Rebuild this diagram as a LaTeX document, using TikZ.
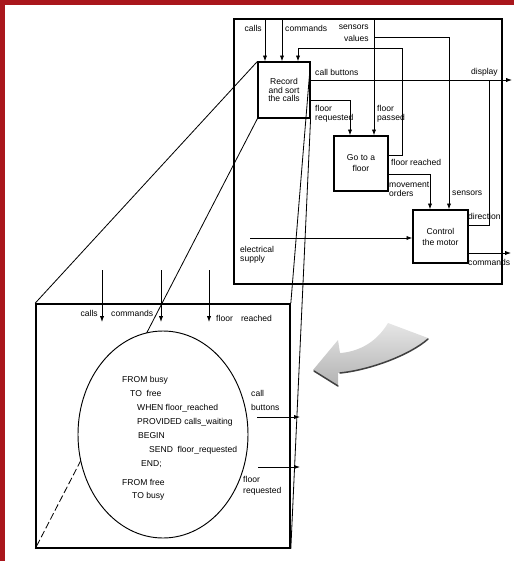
\documentclass[tikz,border=0pt]{standalone}
\usepackage{fontspec}
\setmainfont{Liberation Sans}
\usetikzlibrary{arrows.meta,calc,shapes.geometric}
\definecolor{slideRed}{HTML}{A9161C}

\begin{document}
\begin{tikzpicture}[x=0.3mm,y=-0.3mm, >={Latex[length=5pt,width=3.6pt]},
  lbl/.style={inner sep=0pt,align=left,font=\fontsize{7.3}{8}\selectfont},
  proc/.style={draw,line width=1pt,inner sep=0pt,align=center,font=\fontsize{7.3}{9.4}\selectfont},
  frame/.style={draw,line width=1.4pt,inner sep=0pt},
  flow/.style={->,line width=0.7pt},
  wire/.style={line width=0.7pt},
  zoomline/.style={line width=0.7pt}]
\useasboundingbox (0,0) rectangle (514,561);
\fill[slideRed] (0,0) rectangle (5,561);
\fill[slideRed] (0,0) rectangle (514,5);

% the system and its three activities
\node[frame,minimum width=80.4mm,minimum height=79.5mm] (sys) at (368,151.5) {};
\node[proc,minimum width=15.6mm,minimum height=16.8mm] (rec) at (284,90) {Record\\[-2.2pt]and sort\\[-2.2pt]the calls};
\node[proc,minimum width=16.2mm,minimum height=16.5mm] (goto) at (361,163.5) {Go to a\\floor};
\node[proc,minimum width=16.5mm,minimum height=15.9mm] (motor) at (440.5,236.5) {Control\\the motor};

\coordinate (callsin) at (265,19);
\coordinate (cmdin) at (282,19);
\coordinate (sensin) at (374,19);
\coordinate (sensbr) at (374,37);
\coordinate (senscol) at (449,37);
\coordinate (fbrise) at (402,155);
\coordinate (fbright) at (402,48);
\coordinate (fbleft) at (298,48);
\coordinate (dispout) at (512,80);
\coordinate (frbend) at (350,100);
\coordinate (mvbend) at (430,174);
\coordinate (dirbend) at (489,225);
\coordinate (elin) at (250,238);
\coordinate (cmdout) at (511,253);

\draw[flow] (callsin) -- (callsin |- rec.north);
\draw[flow] (cmdin) -- (cmdin |- rec.north);
\draw[flow] (sensin) -- (sensin |- goto.north);
\draw[flow] (sensbr) -- (senscol) -- (senscol |- motor.north);
\draw[flow] (goto.east |- fbrise) -- (fbrise) -- (fbright) -- (fbleft) -- (fbleft |- rec.north);
\draw[flow] (rec.east |- dispout) -- (dispout);
\draw[flow] (rec.east |- frbend) -- (frbend) -- (frbend |- goto.north);
\draw[flow] (goto.east |- mvbend) -- (mvbend) -- (mvbend |- motor.north);
\draw[wire] (motor.east |- dirbend) -- (dirbend) -- (dirbend |- dispout);
\draw[flow] (elin) -- (elin -| motor.west);
\draw[flow] (motor.east |- cmdout) -- (cmdout);

\node[lbl,anchor=east] (lcalls) at (262,28) {calls};
\node[lbl,anchor=west] (lcmd) at (285,28) {commands};
\node[lbl,anchor=east,align=right,font=\fontsize{7.3}{10}\selectfont] (lsens) at (369,33) {sensors\\values};
\node[lbl,anchor=west] (lcb) at (315,72) {call buttons};
\node[lbl,anchor=east] (ldisp) at (498,72) {display};
\node[lbl,anchor=west] (lfreq) at (315,114) {floor\\requested};
\node[lbl,anchor=west] (lfpass) at (377,114) {floor\\passed};
\node[lbl,anchor=west] (lfreach) at (391,162) {floor reached};
\node[lbl,anchor=west] (lmove) at (389,189) {movement\\orders};
\node[lbl,anchor=west] (lsensors) at (452,193) {sensors};
\node[lbl,anchor=west] (ldir) at (468,216) {direction};
\node[lbl,anchor=west] (lelec) at (240,255) {electrical\\supply};
\node[lbl,anchor=west] (lcmdout) at (468,262) {commands};

% the magnified activity
\node[frame,minimum width=76.2mm,minimum height=73.2mm] (low) at (163,426) {};
\coordinate (hidden) at ($(rec.south west)!0.65!(low.south west)$);
\draw[zoomline] (rec.north west) -- (low.north west);
\draw[zoomline] (rec.north east) -- (low.north east);
\draw[zoomline] (rec.south east) -- (low.south east);
\draw[zoomline] (rec.south west) -- (hidden);
\draw[zoomline,dash pattern=on 6pt off 2.5pt] (hidden) -- (low.south west);
\node[draw,ellipse,line width=0.8pt,fill=white,inner sep=0pt,minimum width=51mm,minimum height=62.1mm] (zoomview) at (163,434.5) {};
\node[lbl,anchor=north west,font=\fontsize{7.3}{11.9}\selectfont] (code) at (122,376) {FROM busy\\
\hspace*{6.8pt}TO\ \ free\\
\hspace*{12.8pt}WHEN floor\_reached\\
\hspace*{12.8pt}PROVIDED calls\_waiting\\
\hspace*{13.6pt}BEGIN\\
\hspace*{23pt}SEND\ \ floor\_requested\\
\hspace*{16.2pt}END;\\[5pt]
FROM free\\[-1.5pt]
\hspace*{8.5pt}TO busy};

\coordinate (zcallsin) at (102,270);
\coordinate (zcmdin) at (161,270);
\coordinate (zreachin) at (209,270);
\coordinate (zinend) at (0,322);
\coordinate (zcbfrom) at (257,417);
\coordinate (zcbout) at (300,417);
\coordinate (zfrfrom) at (258,467);
\coordinate (zfrout) at (300,467);
\draw[flow] (zcallsin) -- (zcallsin |- zinend);
\draw[flow] (zcmdin) -- (zcmdin |- zinend);
\draw[flow] (zreachin) -- (zreachin |- zinend);
\draw[flow] (zcbfrom) -- (zcbout);
\draw[flow] (zfrfrom) -- (zfrout);

\node[lbl,anchor=east] (zcalls) at (98,313) {calls};
\node[lbl,anchor=west] (zcmd) at (111,313) {commands};
\node[lbl,anchor=west] (zreach) at (216,318) {floor\hspace{7pt}reached};
\node[lbl,anchor=west,font=\fontsize{7.3}{11.9}\selectfont] (zcb) at (251,400) {call\\buttons};
\node[lbl,anchor=west,font=\fontsize{7.3}{9.4}\selectfont] (zfreq) at (243,486) {floor\\requested};

% grey curved arrow
\shade[top color=gray!20,bottom color=gray!60] (388,323) .. controls (375,345) and (355,352) .. (340,353) -- (338,340) -- (313,370) -- (338,386) -- (338,373) .. controls (370,370) and (410,355) .. (428,338) -- cycle;
\draw[black!75,line width=1.3pt,line cap=round] (314,371) -- (338,386);
\draw[black!75,line width=1.3pt,line cap=round] (340,373) .. controls (370,370) and (410,355) .. (428,339);
\end{tikzpicture}
\end{document}
